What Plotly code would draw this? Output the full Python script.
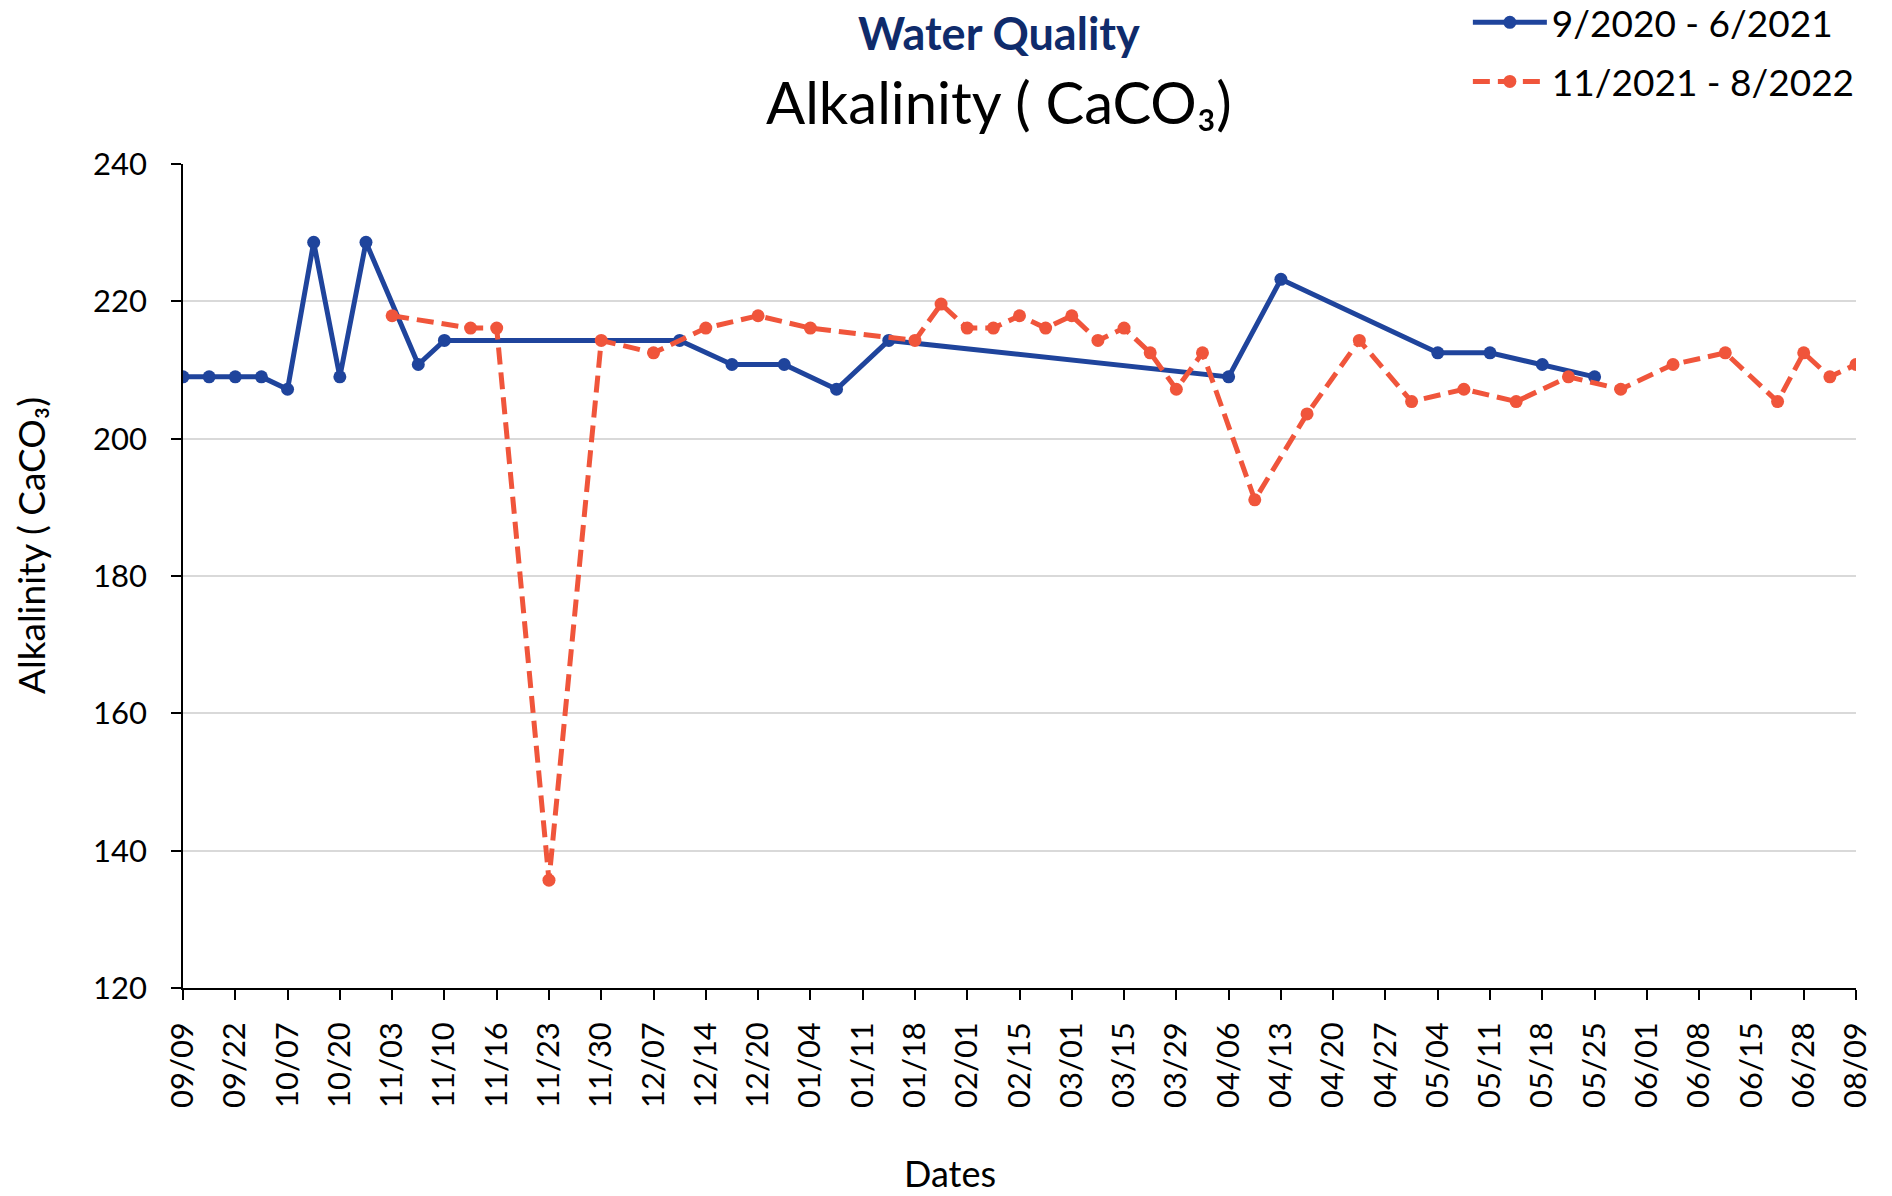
import plotly.graph_objects as go

# 65 sampling-date categories (only every other one is labelled on the axis)
categories = [
    "09/09", "09/15", "09/22", "09/29", "10/07", "10/13", "10/20", "10/27",
    "11/03", "11/06", "11/10", "11/13", "11/16", "11/19", "11/23", "11/26",
    "11/30", "12/03", "12/07", "12/10", "12/14", "12/17", "12/20", "12/28",
    "01/04", "01/07", "01/11", "01/14", "01/18", "01/25", "02/01", "02/08",
    "02/15", "02/22", "03/01", "03/08", "03/15", "03/22", "03/29", "04/01",
    "04/06", "04/09", "04/13", "04/16", "04/20", "04/23", "04/27", "04/30",
    "05/04", "05/07", "05/11", "05/14", "05/18", "05/21", "05/25", "05/28",
    "06/01", "06/04", "06/08", "06/11", "06/15", "06/22", "06/28", "07/19",
    "08/09",
]
tick_labels = categories[::2]

N = None
series_2020 = [
    209.0, 209.0, 209.0, 209.0, 207.2, 228.6, 209.0, 228.6,
    N, 210.8, 214.3, N, N, N, N, N,
    N, N, N, 214.3, N, 210.8, N, 210.8,
    N, 207.2, N, 214.3, N, N, N, N,
    N, N, N, N, N, N, N, N,
    209.0, N, 223.2, N, N, N, N, N,
    212.5, N, 212.5, N, 210.8, N, 209.0, N,
    N, N, N, N, N, N, N, N,
    N,
]
series_2021 = [
    N, N, N, N, N, N, N, N,
    217.9, N, N, 216.1, 216.1, N, 135.7, N,
    214.3, N, 212.5, N, 216.1, N, 217.9, N,
    216.1, N, N, N, 214.3, 219.6, 216.1, 216.1,
    217.9, 216.1, 217.9, 214.3, 216.1, 212.5, 207.2, 212.5,
    N, 191.1, N, 203.6, N, 214.3, N, 205.4,
    N, 207.2, N, 205.4, N, 209.0, N, 207.2,
    N, 210.8, N, 212.5, N, 205.4, 212.5, 209.0,
    210.8,
]
series_names = ["9/2020 - 6/2021", "11/2021 - 8/2022"]

BLUE = "#1F449C"
ORANGE = "#F0553B"
TEXT_FONT = "Lato"

fig = go.Figure()
fig.add_trace(go.Scatter(
    x=categories, y=series_2020, name=series_names[0], mode="lines+markers",
    connectgaps=True, legendgroup="a",
    line=dict(color=BLUE, width=5),
    marker=dict(color=BLUE, size=13),
))
fig.add_trace(go.Scatter(
    x=categories, y=series_2021, name=series_names[1], mode="lines+markers",
    connectgaps=True, legendgroup="b",
    line=dict(color=ORANGE, width=5, dash="17px,8px"),
    marker=dict(color=ORANGE, size=13),
))

FIG_W, FIG_H = 1892, 1196
PL, PR, PT, PB = 183, 1856, 164, 988   # plot area in page pixels
fig.update_layout(
    width=FIG_W, height=FIG_H,
    margin=dict(l=PL, r=FIG_W - PR, t=PT, b=FIG_H - PB, autoexpand=False),
    paper_bgcolor="white", plot_bgcolor="white",
    showlegend=True,
    legend=dict(
        x=0.768, y=1.209, xanchor="left", yanchor="top",
        font=dict(family=TEXT_FONT, size=37, color="black"),
        itemwidth=74, tracegroupgap=8, bgcolor="rgba(0,0,0,0)",
    ),
    xaxis=dict(
        type="category", categoryorder="array", categoryarray=categories,
        range=[0, len(categories) - 1],
        tickmode="array", tickvals=tick_labels, ticktext=tick_labels,
        tickangle=-90, ticks="outside", ticklen=10, tickwidth=1.5, tickcolor="black",
        showline=True, linecolor="black", linewidth=1.5,
        showgrid=False, zeroline=False,
        tickfont=dict(family=TEXT_FONT, size=31, color="black"),
        ticklabelstandoff=10,
    ),
    yaxis=dict(
        range=[120, 240], tickmode="array", tickvals=[120, 140, 160, 180, 200, 220, 240],
        ticks="outside", ticklen=10, tickwidth=1.5, tickcolor="black",
        showline=True, linecolor="black", linewidth=1.5,
        showgrid=True, gridcolor="#D9D9D9", gridwidth=1.5, zeroline=False,
        tickfont=dict(family=TEXT_FONT, size=31, color="black"),
        ticklabelstandoff=18,
    ),
)

W = PR - PL
H = PB - PT
def px(x):
    return (x - PL) / W
def py(y):
    return (PB - y) / H

annotations = [
    dict(text="<b>Water Quality</b>", x=px(999), y=py(33), font=dict(family=TEXT_FONT, size=45, color="#0F2B6B")),
    dict(text="Alkalinity ( CaCO₃)", x=px(999), y=py(102), font=dict(family=TEXT_FONT, size=58, color="black")),
    dict(text="Dates", x=px(950), y=py(1173), font=dict(family=TEXT_FONT, size=36, color="black")),
    dict(text="Alkalinity ( CaCO₃)", x=px(30), y=py(546), textangle=-90, font=dict(family=TEXT_FONT, size=37, color="black")),
]
for a in annotations:
    fig.add_annotation(xref="paper", yref="paper", showarrow=False,
                       xanchor="center", yanchor="middle", **a)

fig.write_html("out.html", config={"displayModeBar": False},
               post_script="document.body.style.margin='0px';")
